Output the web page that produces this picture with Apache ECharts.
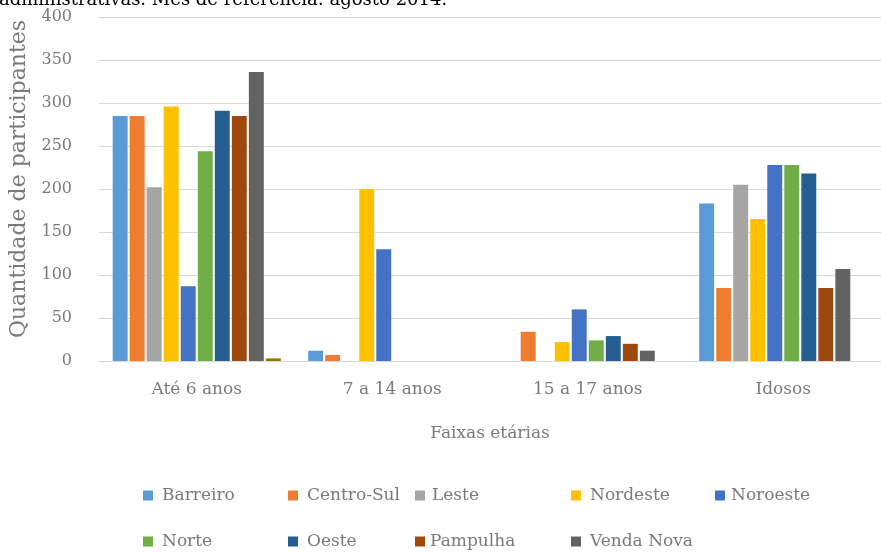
<!DOCTYPE html>
<html>
<head>
<meta charset="utf-8">
<style>
  html, body { margin: 0; padding: 0; background: #fff; }
  #chart { width: 881px; height: 553px; }
</style>
<script src="https://cdn.jsdelivr.net/npm/echarts@6/dist/echarts.min.js"></script>
</head>
<body>
<div id="chart"></div>
<script>
// faixas etárias (eixo x)
const categories = ['Até 6 anos', '7 a 14 anos', '15 a 17 anos', 'Idosos'];

// regionais
const regionais = ['Barreiro', 'Centro-Sul', 'Leste', 'Nordeste', 'Noroeste',
                   'Norte', 'Oeste', 'Pampulha', 'Venda Nova'];

// valores por regional, na ordem das categorias
const barreiro  = [285, 12, 0, 183];
const centroSul = [285, 7, 34, 85];
const leste     = [202, 0, 0, 205];
const nordeste  = [296, 200, 22, 165];
const noroeste  = [87, 130, 60, 228];
const norte     = [244, 0, 24, 228];
const oeste     = [291, 0, 29, 218];
const pampulha  = [285, 0, 20, 85];
const vendaNova = [336, 0, 12, 107];
const semNome   = [3, 0, 0, 0]; // barra extra sem legenda

const cores = ['#5B9BD5', '#ED7D31', '#A5A5A5', '#FFC000', '#4472C4',
               '#70AD47', '#255E91', '#9E480E', '#636363', '#997300'];

const valores = [barreiro, centroSul, leste, nordeste, noroeste,
                 norte, oeste, pampulha, vendaNova, semNome];

const FONTE = 'DejaVu Serif';
const CINZA = '#7a7a7a';

const chart = echarts.init(document.getElementById('chart'), null, { renderer: 'canvas' });

const series = valores.map((v, i) => ({
  name: i < regionais.length ? regionais[i] : 'extra',
  type: 'bar',
  data: v,
  itemStyle: { color: cores[i] },
  barGap: '14%',
  barCategoryGap: '14%',
  emphasis: { disabled: true }
}));

// posição de cada item da legenda (duas linhas)
const colX = [143, 288, 415, 571, 715];
const rowY = [487, 533];
const gapTexto = [4, 4, 2, 4, 1, 4, 4, 0, 4];

const legends = regionais.map((nome, i) => ({
  data: [nome],
  left: colX[i % 5],
  top: rowY[Math.floor(i / 5)],
  itemWidth: 10,
  itemHeight: 10,
  icon: 'rect',
  padding: 0,
  textStyle: { color: CINZA, fontFamily: FONTE, fontSize: 17, padding: [0, 0, 0, gapTexto[i]] }
}));

const option = {
  animation: false,
  textStyle: { fontFamily: FONTE },
  graphic: [{
    type: 'text',
    left: -1,
    top: -9,
    style: {
      text: 'administrativas. Mês de referência: agosto 2014.',
      font: '18px "DejaVu Serif"',
      fill: '#000'
    }
  }],
  legend: legends,
  grid: { left: 99, right: -6, top: 17, bottom: 192 },
  xAxis: {
    type: 'category',
    data: categories,
    name: 'Faixas etárias',
    nameLocation: 'middle',
    nameGap: 64,
    nameTextStyle: { color: CINZA, fontFamily: FONTE, fontSize: 17 },
    axisLine: { lineStyle: { color: '#d9d9d9', width: 1 } },
    axisTick: { show: false },
    axisLabel: { color: CINZA, fontFamily: FONTE, fontSize: 17, margin: 20 }
  },
  yAxis: {
    type: 'value',
    min: 0,
    max: 400,
    interval: 50,
    name: 'Quantidade de participantes',
    nameLocation: 'middle',
    nameGap: 67,
    nameTextStyle: { color: CINZA, fontFamily: FONTE, fontSize: 22, padding: [0, 0, 0, 20] },
    axisLine: { show: false },
    axisTick: { show: false },
    axisLabel: { color: CINZA, fontFamily: FONTE, fontSize: 16, margin: 27 },
    splitLine: { lineStyle: { color: '#d9d9d9', width: 1 } }
  },
  series: series
};

chart.setOption(option);
</script>
</body>
</html>
